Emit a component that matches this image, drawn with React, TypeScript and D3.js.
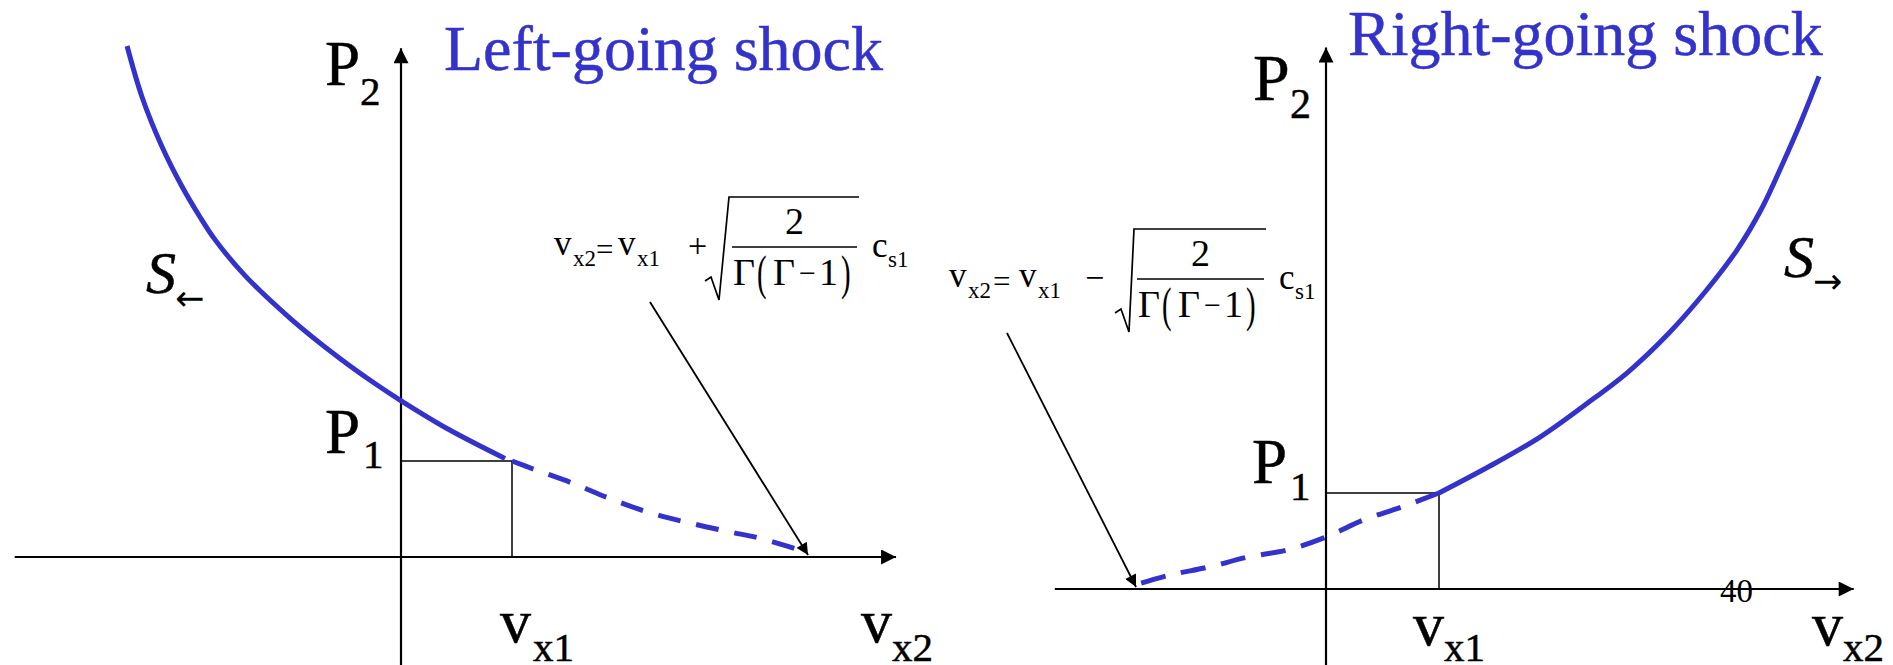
import React from "react";
import * as d3 from "d3";

const BLUE = "#3333cc";
const SERIF = "'Liberation Serif', 'Times New Roman', serif";
const ARROW_FONT = "'DejaVu Sans', sans-serif";

type Pt = [number, number];

// Shock adiabats P2(v_x2), in units of v_x1 (x) and P1 (y)
const leftShockSolid: Pt[] = [
  [-2.468, 5.323], [-2.333, 4.792], [-2.162, 4.297], [-1.973, 3.859], [-1.811, 3.542],
  [-1.676, 3.306], [-1.405, 2.931], [-0.991, 2.479], [-0.559, 2.076], [-0.225, 1.799],
  [-0.009, 1.635], [0.423, 1.333], [0.937, 1.026],
];
const leftShockDashed: Pt[] = [
  [1, 1], [1.19, 0.917], [1.54, 0.771], [1.87, 0.615], [2.22, 0.469],
  [2.56, 0.365], [2.92, 0.271], [3.26, 0.188], [3.65, 0.05],
];
const rightShockSolid: Pt[] = [
  [1, 1.0], [1.451, 1.281], [1.894, 1.583], [2.292, 1.917], [2.673, 2.26],
  [3.027, 2.656], [3.354, 3.094], [3.637, 3.531], [3.858, 3.969], [4.044, 4.438],
  [4.204, 4.87], [4.363, 5.34],
];
const rightShockDashed: Pt[] = [
  [1, 1], [0.67, 0.854], [0.33, 0.719], [0, 0.542], [-0.345, 0.406],
  [-0.69, 0.333], [-1.035, 0.229], [-1.38, 0.146], [-1.64, 0.06],
];

// Axis extents (from, to)
const leftXExtent: Pt = [-3.48, 4.46];
const leftYExtent: Pt = [-1.13, 5.3];
const rightXExtent: Pt = [-2.4, 4.67];
const rightYExtent: Pt = [-0.8, 5.64];

// Pointers from each formula to the zero-pressure end of the rarefaction branch
const leftPointer: Pt[] = [[2.243, 2.656], [3.667, 0.021]];
const rightPointer: Pt[] = [[-2.823, 2.667], [-1.681, 0.021]];

const titles = ["Left-going shock", "Right-going shock"];
const pageNumber = "40";

const INK = { stroke: "#000", strokeWidth: 0.5 };

function Sub({ x, y, base, sub, size, subSize, dx, dy }: any) {
  return (
    <g fill="#000" fontFamily={SERIF} {...INK}>
      <text x={x} y={y} fontSize={size}>{base}</text>
      <text x={x + dx} y={y + dy} fontSize={subSize}>{sub}</text>
    </g>
  );
}

function ArrowSub({ x, y, base, arrow, dx, dy }: any) {
  return (
    <g fill="#000">
      <text x={x} y={y} fontFamily={SERIF} fontSize={60} fontStyle="italic" {...INK}>{base}</text>
      <text x={x + dx} y={y + dy} fontFamily={ARROW_FONT} fontSize={35}>{arrow}</text>
    </g>
  );
}

// v_x2 = v_x1 ± sqrt(2 / (Γ(Γ−1))) c_s1
function Formula({ p, bar, sign }: any) {
  const b0 = p.bar0, b1 = p.bar1;
  const base = bar + 8;
  const sb = bar + 19;
  const den = bar + 38;
  const paren = (x: number, ch: string) => (
    <text transform={`translate(${x},${bar + 42}) scale(0.8,1.37)`} fontSize={36}>{ch}</text>
  );
  return (
    <g fontFamily={SERIF} fill="#000">
      <text x={p.v1} y={base} fontSize={35}>v</text>
      <text x={p.v1 + 19} y={sb} fontSize={23}>x2</text>
      <text x={p.eq} y={bar + 13} fontSize={31}>=</text>
      <text x={p.v2} y={base} fontSize={35}>v</text>
      <text x={p.v2 + 19} y={sb} fontSize={23}>x1</text>
      <text x={p.op} y={bar + 10} fontSize={34}>{sign}</text>
      <path
        d={`M${p.rad},${bar + 34} L${p.rad + 6},${bar + 30} L${p.rad + 14},${bar + 53} L${b0 - 3},${bar - 50} L${b1 + 2},${bar - 50}`}
        fill="none" stroke="#000" strokeWidth={1.7} strokeLinejoin="miter"
      />
      <text x={(b0 + b1) / 2} y={bar - 13} fontSize={38} textAnchor="middle">2</text>
      <line x1={b0} x2={b1} y1={bar} y2={bar} stroke="#000" strokeWidth={1.7} />
      <text x={b0 + 1} y={den} fontSize={38}>Γ</text>
      {paren(b0 + 25, "(")}
      <text x={b0 + 41} y={den} fontSize={38}>Γ</text>
      <text x={b0 + 67} y={den - 2} fontSize={30}>−</text>
      <text x={b0 + 87} y={den} fontSize={38}>1</text>
      {paren(b0 + 109, ")")}
      <text x={p.c} y={bar + 10} fontSize={35}>c</text>
      <text x={p.c + 16} y={bar + 20} fontSize={23}>s1</text>
    </g>
  );
}

export default function App() {
  const W = 1893, H = 665;
  const lx = d3.scaleLinear().domain([0, 1]).range([401, 512]);
  const ly = d3.scaleLinear().domain([0, 1]).range([557, 461]);
  const rx = d3.scaleLinear().domain([0, 1]).range([1326, 1439]);
  const ry = d3.scaleLinear().domain([0, 1]).range([589, 493]);

  const curve = (xs: any, ys: any) =>
    d3.line<Pt>().x((d) => xs(d[0])).y((d) => ys(d[1])).curve(d3.curveCatmullRom.alpha(0.5));
  const straight = (xs: any, ys: any) => d3.line<Pt>().x((d) => xs(d[0])).y((d) => ys(d[1]));

  const axes = (xs: any, ys: any, xe: Pt, ye: Pt) => (
    <g stroke="#000" strokeWidth={2.2} fill="none">
      <line x1={xs(xe[0])} x2={xs(xe[1])} y1={ys(0)} y2={ys(0)} markerEnd="url(#axisHead)" />
      <line x1={xs(0)} x2={xs(0)} y1={ys(ye[0])} y2={ys(ye[1])} markerEnd="url(#axisHead)" />
      <path d={`M${xs(0)},${ys(1)} H${xs(1)} V${ys(0)}`} strokeWidth={1.5} />
    </g>
  );

  return (
    <svg width={W} height={H} style={{ position: "absolute", left: 0, top: 0, background: "#fff" }}>
      <defs>
        <marker id="axisHead" viewBox="0 0 10 10" refX={10} refY={5} markerWidth={17} markerHeight={15}
          markerUnits="userSpaceOnUse" orient="auto">
          <path d="M0,0 L10,5 L0,10 z" fill="#000" />
        </marker>
        <marker id="ptrHead" viewBox="0 0 10 10" refX={10} refY={5} markerWidth={17} markerHeight={12}
          markerUnits="userSpaceOnUse" orient="auto">
          <path d="M0,0 L10,5 L0,10 z" fill="#000" />
        </marker>
      </defs>
      <rect width={W} height={H} fill="#fff" />

      {/* Left-going shock panel */}
      {axes(lx, ly, leftXExtent, leftYExtent)}
      <path d={curve(lx, ly)(leftShockSolid) ?? ""} fill="none" stroke={BLUE} strokeWidth={5} />
      <path d={curve(lx, ly)(leftShockDashed) ?? ""} fill="none" stroke={BLUE} strokeWidth={5}
        strokeDasharray="23 16" />
      <path d={straight(lx, ly)(leftPointer) ?? ""} stroke="#000" strokeWidth={1.8} fill="none"
        markerEnd="url(#ptrHead)" />
      <text x={444} y={70} fontFamily={SERIF} fontSize={64} fill={BLUE} stroke={BLUE} strokeWidth={0.5}>
        {titles[0]}
      </text>
      <Sub x={325} y={85} base="P" sub="2" size={63} subSize={41} dx={35} dy={20} />
      <Sub x={325} y={453} base="P" sub="1" size={63} subSize={41} dx={38} dy={15} />
      <Sub x={lx(1) - 12} y={642} base="v" sub="x1" size={62} subSize={41} dx={33} dy={19} />
      <Sub x={861} y={642} base="v" sub="x2" size={62} subSize={41} dx={31} dy={19} />
      <ArrowSub x={146} y={293} base="S" arrow="←" dx={29} dy={17} />
      <Formula p={{ v1: 554, eq: 596, v2: 618, op: 688, rad: 705, bar0: 732, bar1: 857, c: 872 }}
        bar={247} sign="+" />

      {/* Right-going shock panel */}
      {axes(rx, ry, rightXExtent, rightYExtent)}
      <path d={curve(rx, ry)(rightShockSolid) ?? ""} fill="none" stroke={BLUE} strokeWidth={5} />
      <path d={curve(rx, ry)(rightShockDashed) ?? ""} fill="none" stroke={BLUE} strokeWidth={5}
        strokeDasharray="25 16" />
      <path d={straight(rx, ry)(rightPointer) ?? ""} stroke="#000" strokeWidth={1.8} fill="none"
        markerEnd="url(#ptrHead)" />
      <text x={1348} y={55} fontFamily={SERIF} fontSize={64} fill={BLUE} stroke={BLUE} strokeWidth={0.5}>
        {titles[1]}
      </text>
      <Sub x={1253} y={100} base="P" sub="2" size={66} subSize={42} dx={37} dy={18} />
      <Sub x={1252} y={483} base="P" sub="1" size={63} subSize={41} dx={38} dy={17} />
      <Sub x={rx(1) - 26} y={645} base="v" sub="x1" size={62} subSize={41} dx={31} dy={16} />
      <Sub x={1812} y={645} base="v" sub="x2" size={62} subSize={41} dx={31} dy={16} />
      <ArrowSub x={1784} y={277} base="S" arrow="→" dx={29} dy={16} />
      <Formula p={{ v1: 949, eq: 993, v2: 1019, op: 1085, rad: 1115, bar0: 1137, bar1: 1264, c: 1279 }}
        bar={279} sign="−" />
      <text x={1720} y={602} fontFamily={SERIF} fontSize={33}>{pageNumber}</text>
    </svg>
  );
}
